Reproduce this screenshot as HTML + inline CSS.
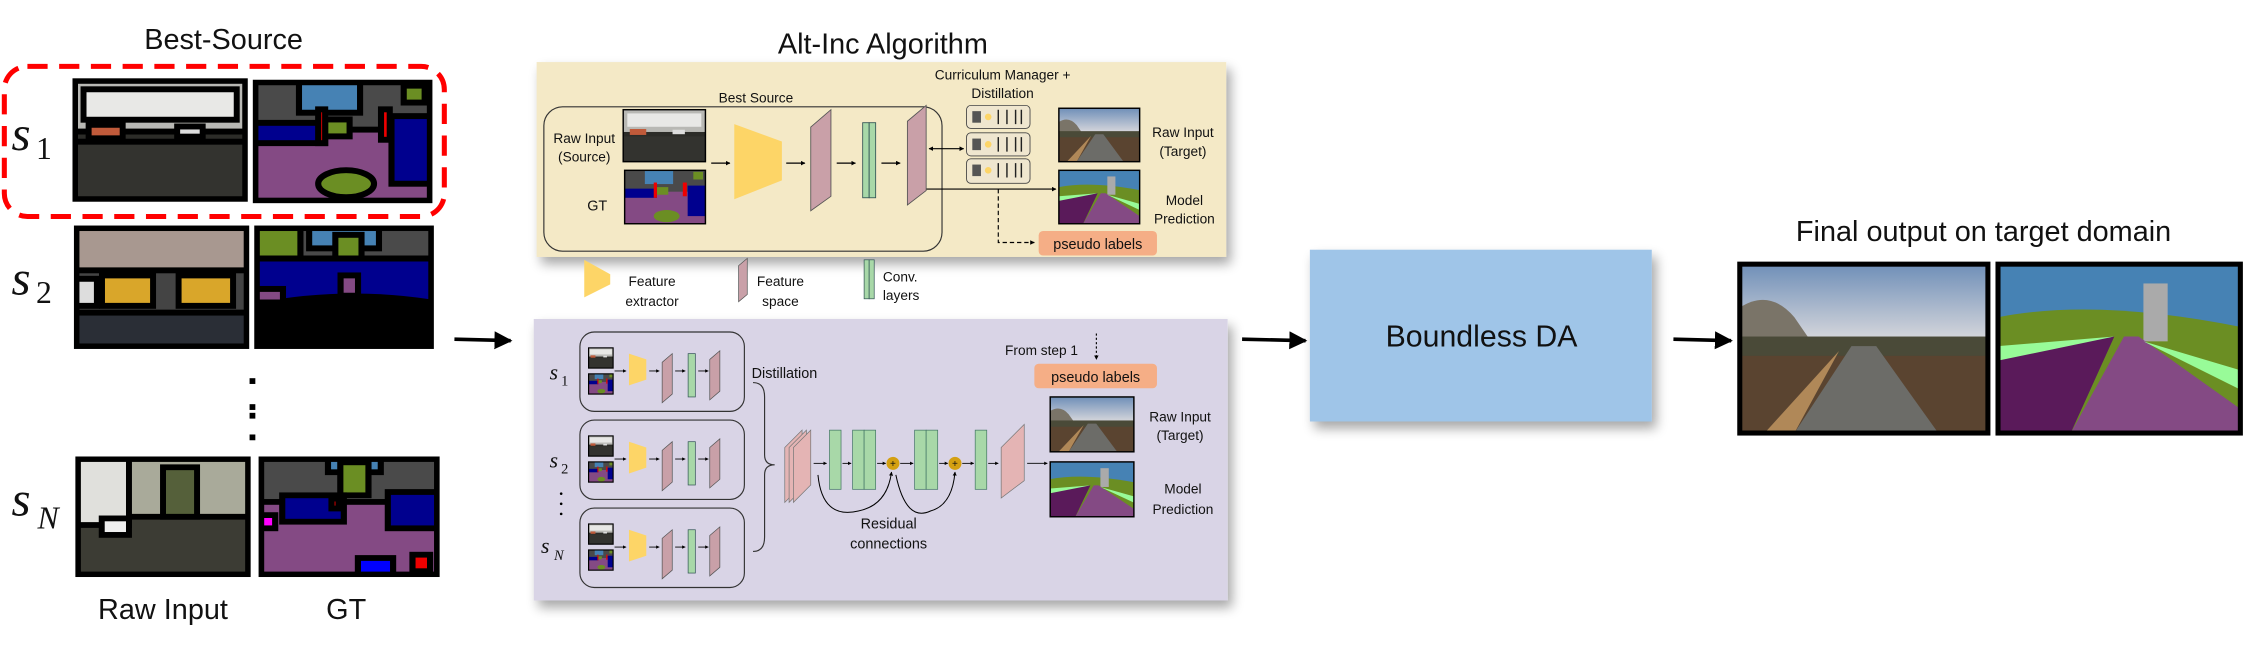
<!DOCTYPE html>
<html><head><meta charset="utf-8"><style>
html,body{margin:0;padding:0;background:#fff;width:2262px;height:651px;overflow:hidden}
svg{display:block}
text{font-family:"Liberation Sans",sans-serif;fill:#111}
.s{font-family:"Liberation Serif",serif;font-style:italic}
</style></head><body>
<svg width="2262" height="651" viewBox="0 0 1568 451" preserveAspectRatio="none" xmlns="http://www.w3.org/2000/svg">
<defs>
<marker id="ah" viewBox="0 0 10 10" refX="9" refY="5" markerWidth="5" markerHeight="5" orient="auto"><path d="M0,0L10,5L0,10z" fill="#000"/></marker>
<marker id="as" viewBox="0 0 10 10" refX="9" refY="5" markerWidth="4" markerHeight="4" orient="auto-start-reverse"><path d="M0,0L10,5L0,10z" fill="#000"/></marker>
<symbol id="city" viewBox="0 0 100 70" preserveAspectRatio="none">
<rect width="100" height="70" fill="#2c2c28"/><rect width="100" height="30" fill="#b8b8b4"/><rect x="5" y="5" width="90" height="18" fill="#e8e8e6"/><rect x="8" y="26" width="20" height="8" fill="#c05a3a"/><rect x="60" y="27" width="15" height="6" fill="#ddd"/><rect y="36" width="100" height="34" fill="#33332f"/></symbol>
<symbol id="taxi" viewBox="0 0 100 70" preserveAspectRatio="none">
<rect width="100" height="70" fill="#444"/><rect width="100" height="25" fill="#a89890"/><rect x="15" y="28" width="30" height="18" fill="#d9a62a"/><rect x="60" y="28" width="32" height="18" fill="#d9a62a"/><rect x="0" y="30" width="12" height="16" fill="#ddd"/><rect y="50" width="100" height="20" fill="#2a2e36"/></symbol>
<symbol id="street" viewBox="0 0 100 70" preserveAspectRatio="none">
<rect width="100" height="70" fill="#3c3c34"/><rect width="100" height="35" fill="#a9aa9a"/><rect x="0" width="30" height="40" fill="#e0e0dc"/><rect x="50" y="5" width="20" height="30" fill="#55603a"/><rect x="14" y="36" width="16" height="10" fill="#eee"/></symbol>
<symbol id="gt1" viewBox="0 0 100 70" preserveAspectRatio="none">
<rect width="100" height="70" fill="#844a84"/><rect width="100" height="28" fill="#4a4a4a"/><rect x="25" width="35" height="18" fill="#4682b4"/><rect x="0" y="24" width="40" height="12" fill="#00008e"/><rect x="78" y="20" width="22" height="40" fill="#00008e"/><rect x="40" y="22" width="14" height="10" fill="#6b8e23"/><rect x="36" y="16" width="4" height="20" fill="#e00"/><rect x="72" y="16" width="5" height="18" fill="#e00"/><ellipse cx="52" cy="60" rx="16" ry="8" fill="#6b8e23"/><rect x="85" y="2" width="12" height="10" fill="#6b8e23"/></symbol>
<symbol id="gt2" viewBox="0 0 100 70" preserveAspectRatio="none">
<rect width="100" height="70" fill="#000"/><rect width="100" height="20" fill="#4a4a4a"/><rect x="30" width="40" height="12" fill="#4682b4"/><rect x="0" y="0" width="25" height="22" fill="#6b8e23"/><rect x="45" y="4" width="15" height="16" fill="#6b8e23"/><path d="M0,18H100V44Q50,36 0,46z" fill="#00008e"/><rect x="48" y="28" width="10" height="12" fill="#844a84"/><rect x="0" y="36" width="15" height="8" fill="#844a84"/></symbol>
<symbol id="gtn" viewBox="0 0 100 70" preserveAspectRatio="none">
<rect width="100" height="70" fill="#844a84"/><rect width="100" height="26" fill="#4a4a4a"/><rect x="38" width="30" height="8" fill="#4682b4"/><rect x="45" y="2" width="16" height="20" fill="#6b8e23"/><rect x="12" y="22" width="35" height="16" fill="#00008e"/><rect x="72" y="20" width="28" height="22" fill="#00008e"/><rect x="0" y="34" width="8" height="8" fill="#f0f"/><rect x="40" y="24" width="4" height="6" fill="#e00"/><rect x="55" y="60" width="20" height="10" fill="#00f"/><rect x="86" y="58" width="10" height="10" fill="#e00"/></symbol>
<symbol id="road" viewBox="0 0 100 70" preserveAspectRatio="none">
<defs><linearGradient id="sky" x1="0" y1="0" x2="0" y2="1"><stop offset="0" stop-color="#6f8fb8"/><stop offset="1" stop-color="#d8d8dc"/></linearGradient></defs>
<rect width="100" height="70" fill="#5a4430"/><rect width="100" height="32" fill="url(#sky)"/><path d="M0,18Q12,10 22,22L30,34H0z" fill="#7a7468"/><rect y="30" width="100" height="8" fill="#4a4a38"/><path d="M45,34H55L80,70H22z" fill="#6c6c68"/><path d="M40,36L22,70H10z" fill="#b08858"/></symbol>
<symbol id="pred" viewBox="0 0 100 70" preserveAspectRatio="none">
<rect width="100" height="70" fill="#4682b4"/><path d="M0,22Q40,14 100,26V70H0z" fill="#6b8e23"/><rect x="60" y="8" width="10" height="24" fill="#aaa"/><path d="M0,36L48,30L30,70H0z" fill="#5a1a5a"/><path d="M52,30H58L100,60V70H30z" fill="#844a84"/><path d="M48,30L0,40V34z" fill="#98fb98"/><path d="M60,32L100,44V52z" fill="#98fb98"/></symbol>
<filter id="sh" x="-20%" y="-20%" width="150%" height="150%"><feGaussianBlur in="SourceAlpha" stdDeviation="4"/><feOffset dx="3" dy="5"/><feComponentTransfer><feFuncA type="linear" slope="0.35"/></feComponentTransfer><feMerge><feMergeNode/><feMergeNode in="SourceGraphic"/></feMerge></filter>
</defs>

<!-- LEFT -->
<text x="155" y="34" font-size="20" text-anchor="middle">Best-Source</text>
<rect x="3" y="46" width="305" height="104" rx="16" fill="none" stroke="#f00" stroke-width="3.5" stroke-dasharray="14,8"/>
<text class="s" x="8" y="104" font-size="34">s</text><text x="25" y="110" font-size="22" style="font-family:'Liberation Serif',serif">1</text>
<text class="s" x="8" y="204" font-size="34">s</text><text x="25" y="210" font-size="22" style="font-family:'Liberation Serif',serif">2</text>
<text class="s" x="8" y="357" font-size="34">s</text><text class="s" x="26" y="366" font-size="22">N</text>
<g stroke="#000" stroke-width="3.5">
<use href="#city" x="52" y="56" width="118" height="82"/><rect x="52" y="56" width="118" height="82" fill="none"/>
<use href="#gt1" x="177" y="57" width="121" height="82"/><rect x="177" y="57" width="121" height="82" fill="none"/>
<use href="#taxi" x="53" y="158" width="118" height="82"/><rect x="53" y="158" width="118" height="82" fill="none"/>
<use href="#gt2" x="178" y="158" width="121" height="82"/><rect x="178" y="158" width="121" height="82" fill="none"/>
<use href="#street" x="54" y="318" width="118" height="80"/><rect x="54" y="318" width="118" height="80" fill="none"/>
<use href="#gtn" x="181" y="318" width="122" height="80"/><rect x="181" y="318" width="122" height="80" fill="none"/>
</g>
<g fill="#000"><rect x="173" y="262" width="4" height="4"/><rect x="173" y="280" width="4" height="4"/><rect x="173" y="286" width="4" height="4"/><rect x="173" y="301" width="4" height="4"/></g>
<text x="113" y="429" font-size="20" text-anchor="middle">Raw Input</text>
<text x="240" y="429" font-size="20" text-anchor="middle">GT</text>
<line x1="315" y1="235" x2="354" y2="236" stroke="#000" stroke-width="2.5" marker-end="url(#ah)"/>

<!-- MIDDLE -->
<text x="612" y="37" font-size="20" text-anchor="middle">Alt-Inc Algorithm</text>
<rect x="372" y="43" width="478" height="135" fill="#f4e9c6" filter="url(#sh)"/>
<rect x="370" y="221" width="481" height="195" fill="#d9d4e6" filter="url(#sh)"/>
<rect x="377" y="74" width="276" height="100" rx="13" fill="none" stroke="#333" stroke-width="0.8"/>
<text x="524" y="71" font-size="9.5" text-anchor="middle">Best Source</text>
<text x="405" y="99" font-size="9.5" text-anchor="middle">Raw Input</text>
<text x="405" y="112" font-size="9.5" text-anchor="middle">(Source)</text>
<text x="414" y="146" font-size="10" text-anchor="middle">GT</text>
<use href="#city" x="432" y="76" width="57" height="36"/><rect x="432" y="76" width="57" height="36" fill="none" stroke="#000"/>
<use href="#gt1" x="433" y="118" width="56" height="37"/><rect x="433" y="118" width="56" height="37" fill="none" stroke="#000"/>
<g stroke="#000" stroke-width="0.8" marker-end="url(#as)">
<line x1="493" y1="113" x2="506" y2="113"/><line x1="545" y1="113" x2="558" y2="113"/><line x1="580" y1="113" x2="593" y2="113"/><line x1="611" y1="113" x2="624" y2="113"/>
<line x1="644" y1="103" x2="668" y2="103" marker-start="url(#as)"/>
<line x1="642" y1="131" x2="732" y2="131"/>
</g>
<path d="M509,86L542,98V125L509,138z" fill="#fdd567"/>
<path d="M562,88L576,76V136L562,146z" fill="#c9a0a8" stroke="#555" stroke-width="0.6"/>
<rect x="598" y="85" width="4.5" height="52" fill="#a8d8a8" stroke="#355" stroke-width="0.6"/><rect x="602.5" y="85" width="4.5" height="52" fill="#a8d8a8" stroke="#355" stroke-width="0.6"/>
<path d="M629,84L642,73V132L629,142z" fill="#c9a0a8" stroke="#555" stroke-width="0.6"/>
<text x="695" y="55" font-size="9.5" text-anchor="middle">Curriculum Manager +</text>
<text x="695" y="68" font-size="9.5" text-anchor="middle">Distillation</text>
<g fill="#efe6cf" stroke="#444" stroke-width="0.6">
<rect x="670" y="73" width="44" height="16" rx="3"/><rect x="670" y="92" width="44" height="16" rx="3"/><rect x="670" y="110" width="44" height="17" rx="3"/></g>
<g fill="#555"><rect x="674" y="77" width="6" height="8"/><rect x="674" y="96" width="6" height="8"/><rect x="674" y="114" width="6" height="8"/></g>
<g fill="#fdd567"><circle cx="685" cy="81" r="2.3"/><circle cx="685" cy="100" r="2.3"/><circle cx="685" cy="118" r="2.3"/></g>
<g stroke="#222" stroke-width="1"><path d="M692,76V86M698,76V86M704,76V86M708,76V86"/><path d="M692,95V105M698,95V105M704,95V105M708,95V105"/><path d="M692,113V123M698,113V123M704,113V123M708,113V123"/></g>
<path d="M692,131V168H717" fill="none" stroke="#000" stroke-width="0.8" stroke-dasharray="3,2" marker-end="url(#as)"/>
<rect x="720" y="160" width="82" height="17" rx="3" fill="#f5ae86"/>
<text x="761" y="172.5" font-size="10" text-anchor="middle">pseudo labels</text>
<use href="#road" x="734" y="75" width="56" height="37"/><rect x="734" y="75" width="56" height="37" fill="none" stroke="#000"/>
<use href="#pred" x="734" y="118" width="56" height="37"/><rect x="734" y="118" width="56" height="37" fill="none" stroke="#000"/>
<text x="820" y="95" font-size="9.5" text-anchor="middle">Raw Input</text>
<text x="820" y="108" font-size="9.5" text-anchor="middle">(Target)</text>
<text x="821" y="142" font-size="9.5" text-anchor="middle">Model</text>
<text x="821" y="155" font-size="9.5" text-anchor="middle">Prediction</text>
<!-- legend -->
<path d="M405,180L423,190V197L405,206z" fill="#fdd567"/>
<text x="452" y="198" font-size="9.5" text-anchor="middle">Feature</text><text x="452" y="212" font-size="9.5" text-anchor="middle">extractor</text>
<path d="M512,184L518,179V204L512,209z" fill="#c9a0a8" stroke="#555" stroke-width="0.5"/>
<text x="541" y="198" font-size="9.5" text-anchor="middle">Feature</text><text x="541" y="212" font-size="9.5" text-anchor="middle">space</text>
<rect x="599" y="180" width="3.5" height="27" fill="#a8d8a8" stroke="#355" stroke-width="0.5"/><rect x="602.5" y="180" width="3.5" height="27" fill="#a8d8a8" stroke="#355" stroke-width="0.5"/>
<text x="612" y="195" font-size="9.5">Conv.</text><text x="612" y="208" font-size="9.5">layers</text>

<!-- purple part -->
<g fill="none" stroke="#333" stroke-width="0.8"><rect x="402" y="230" width="114" height="55" rx="10"/><rect x="402" y="291" width="114" height="55" rx="10"/><rect x="402" y="352" width="114" height="55" rx="10"/></g>
<text class="s" x="381" y="263" font-size="15">s</text><text x="389" y="267" font-size="10" style="font-family:'Liberation Serif',serif">1</text>
<text class="s" x="381" y="324" font-size="15">s</text><text x="389" y="328" font-size="10" style="font-family:'Liberation Serif',serif">2</text>
<text class="s" x="375" y="383" font-size="15">s</text><text class="s" x="384" y="388" font-size="10">N</text>
<g fill="#000"><circle cx="389" cy="342" r="0.9"/><circle cx="389" cy="349" r="0.9"/><circle cx="389" cy="356" r="0.9"/></g>
<g id="mini">
<use href="#city" x="408" y="241" width="17" height="14"/><rect x="408" y="241" width="17" height="14" fill="none" stroke="#000" stroke-width="0.8"/>
<use href="#gt1" x="408" y="259" width="17" height="14"/><rect x="408" y="259" width="17" height="14" fill="none" stroke="#000" stroke-width="0.8"/>
<path d="M436,245L448,249V263L436,267z" fill="#fdd567"/>
<path d="M459,251L466,245V273L459,279z" fill="#c9a0a8" stroke="#555" stroke-width="0.5"/>
<rect x="477" y="245" width="5" height="30" fill="#a8d8a8" stroke="#355" stroke-width="0.5"/>
<path d="M492,249L499,243V271L492,277z" fill="#c9a0a8" stroke="#555" stroke-width="0.5"/>
<g stroke="#000" stroke-width="0.6" marker-end="url(#as)"><line x1="426" y1="257" x2="434" y2="257"/><line x1="450" y1="257" x2="457" y2="257"/><line x1="468" y1="257" x2="475" y2="257"/><line x1="484" y1="257" x2="491" y2="257"/></g>
</g>
<use href="#mini" y="61"/><use href="#mini" y="122"/>
<text x="521" y="262" font-size="10">Distillation</text>
<path d="M522,265Q530,265 530,275V315Q530,322 537,322Q530,322 530,329V372Q530,382 522,382" fill="none" stroke="#333" stroke-width="0.8"/>
<g fill="#e4b4b4" stroke="#777" stroke-width="0.5"><path d="M544,310L556,298V336L544,348z"/><path d="M547,310L559,298V336L547,348z"/><path d="M550,310L562,298V336L550,348z"/></g>
<g fill="#a8d8a8" stroke="#476" stroke-width="0.5">
<rect x="575" y="298" width="8" height="41"/><rect x="591" y="298" width="8" height="41"/><rect x="599" y="298" width="8" height="41"/>
<rect x="634" y="298" width="8" height="41"/><rect x="642" y="298" width="8" height="41"/><rect x="676" y="298" width="8" height="41"/></g>
<path d="M694,310L710,294V333L694,345z" fill="#e4b4b4" stroke="#777" stroke-width="0.5"/>
<g fill="#d4a012"><circle cx="619" cy="321" r="4.5"/><circle cx="662" cy="321" r="4.5"/></g>
<g font-size="7" text-anchor="middle"><text x="619" y="323.5">+</text><text x="662" y="323.5">+</text></g>
<g stroke="#000" stroke-width="0.6" marker-end="url(#as)"><line x1="564" y1="321" x2="573" y2="321"/><line x1="584" y1="321" x2="590" y2="321"/><line x1="608" y1="321" x2="614" y2="321"/><line x1="624" y1="321" x2="633" y2="321"/><line x1="651" y1="321" x2="657" y2="321"/><line x1="667" y1="321" x2="675" y2="321"/><line x1="685" y1="321" x2="692" y2="321"/><line x1="712" y1="321" x2="726" y2="321"/></g>
<g fill="none" stroke="#000" stroke-width="0.7" marker-end="url(#as)"><path d="M567,329Q570,360 595,354Q615,350 618,327"/><path d="M621,329Q628,362 645,354Q660,350 662,327"/></g>
<text x="616" y="366" font-size="10" text-anchor="middle">Residual</text><text x="616" y="380" font-size="10" text-anchor="middle">connections</text>
<text x="722" y="246" font-size="9.5" text-anchor="middle">From step 1</text>
<line x1="760" y1="231" x2="760" y2="249" stroke="#000" stroke-width="0.8" stroke-dasharray="1.5,1.5" marker-end="url(#as)"/>
<rect x="717" y="252" width="85" height="17" rx="3" fill="#f5ae86"/>
<text x="759.5" y="264.5" font-size="10" text-anchor="middle">pseudo labels</text>
<use href="#road" x="728" y="275" width="58" height="38"/><rect x="728" y="275" width="58" height="38" fill="none" stroke="#000"/>
<use href="#pred" x="728" y="320" width="58" height="38"/><rect x="728" y="320" width="58" height="38" fill="none" stroke="#000"/>
<text x="818" y="292" font-size="9.5" text-anchor="middle">Raw Input</text><text x="818" y="305" font-size="9.5" text-anchor="middle">(Target)</text>
<text x="820" y="342" font-size="9.5" text-anchor="middle">Model</text><text x="820" y="356" font-size="9.5" text-anchor="middle">Prediction</text>

<!-- RIGHT -->
<line x1="861" y1="235" x2="905" y2="236" stroke="#000" stroke-width="2.5" marker-end="url(#ah)"/>
<rect x="908" y="173" width="237" height="119" fill="#9fc5e8" filter="url(#sh)"/>
<text x="1027" y="240" font-size="21" text-anchor="middle">Boundless DA</text>
<line x1="1160" y1="235" x2="1200" y2="236" stroke="#000" stroke-width="2.5" marker-end="url(#ah)"/>
<text x="1375" y="167" font-size="20" text-anchor="middle">Final output on target domain</text>
<use href="#road" x="1206" y="183" width="172" height="117"/><rect x="1206" y="183" width="172" height="117" fill="none" stroke="#000" stroke-width="3.5"/>
<use href="#pred" x="1385" y="183" width="168" height="117"/><rect x="1385" y="183" width="168" height="117" fill="none" stroke="#000" stroke-width="3.5"/>
</svg>
</body></html>
